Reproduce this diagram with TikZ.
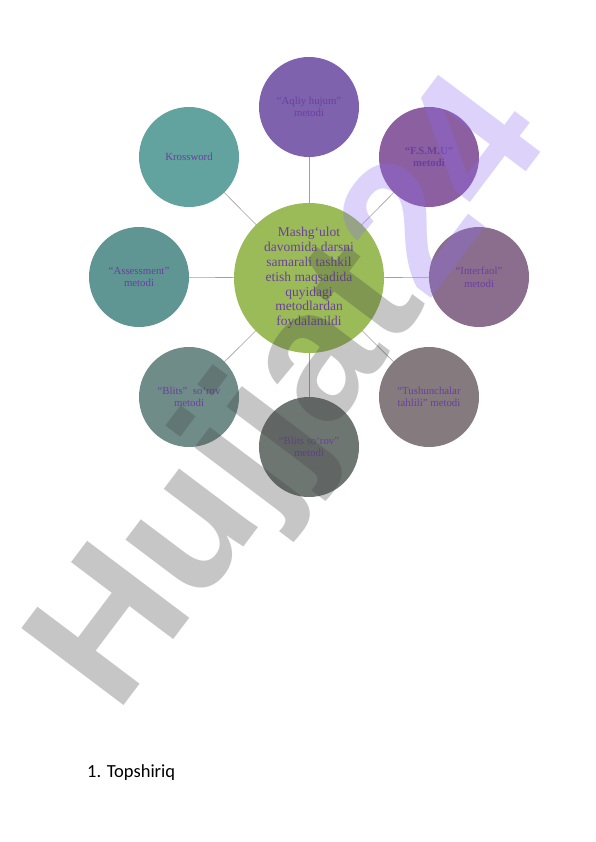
\documentclass[tikz,border=0pt]{standalone}
\usepackage{fontspec}
\setmainfont{Liberation Serif}
\newfontfamily\calibrifont{Carlito}
\newfontfamily\wmfont{Liberation Sans}
\usetikzlibrary{backgrounds}
\definecolor{txtpurple}{HTML}{6B3FA0}
\definecolor{cTop}{HTML}{7E62AE}
\definecolor{cFsmu}{HTML}{8B5FA0}
\definecolor{cKross}{HTML}{62A39F}
\definecolor{cAssess}{HTML}{5F9593}
\definecolor{cInter}{HTML}{8B6E8E}
\definecolor{cBlits}{HTML}{6F8C89}
\definecolor{cTush}{HTML}{857A7D}
\definecolor{cBottom}{HTML}{6E7672}
\definecolor{cHub}{HTML}{9BBB59}
\definecolor{linkgray}{HTML}{A0A0A0}
\definecolor{wmgray}{HTML}{444444}
\definecolor{wmlav}{HTML}{8C6CF0}
\tikzset{
  outer/.style={circle, minimum size=100pt, inner sep=0pt, align=center,
    text=txtpurple, font=\fontsize{10.8}{12.5}\selectfont},
  hub/.style={circle, minimum size=150pt, inner sep=0pt, align=center, fill=cHub,
    text=txtpurple, font=\fontsize{13.5}{14.8}\selectfont},
  link/.style={draw=linkgray, line width=0.6pt},
  wm/.style={rotate=53, text opacity=0.3, inner sep=0pt,
    font=\wmfont\bfseries\fontsize{186}{186}\selectfont}
}
\begin{document}
\begin{tikzpicture}[x=1pt,y=-1pt]
\useasboundingbox (0,0) rectangle (596,842);
\node[hub] (hub) at (309,278) {Mashg‘ulot\\davomida darsni\\samarali tashkil\\etish maqsadida\\quyidagi\\metodlardan\\foydalanildi};
\node[outer, fill=cTop] (top) at (309,107) {“Aqliy hujum”\\metodi};
\node[outer, fill=cFsmu, font=\bfseries\fontsize{10.8}{12.5}\selectfont] (fsmu) at (429,157) {“F.S.M.U”\\metodi};
\node[outer, fill=cKross] (kross) at (189,157) {Krossword};
\node[outer, fill=cAssess] (assess) at (139,277) {“Assessment”\\metodi};
\node[outer, fill=cInter] (inter) at (479,277) {“Interfaol”\\metodi};
\node[outer, fill=cBlits] (blits) at (189,397) {“Blits”\ \ so‘rov\\metodi};
\node[outer, fill=cTush] (tush) at (429,397) {“Tushunchalar\\tahlili” metodi};
\node[outer, fill=cBottom] (bottom) at (309,447) {“Blits so‘rov”\\metodi};
\begin{scope}[on background layer]
  \fill[white] (0,0) rectangle (596,842);
  \foreach \n in {top,fsmu,kross,assess,inter,blits,tush,bottom}
    \draw[link] (hub.center) -- (\n.center);
\end{scope}
\node[anchor=base west, inner sep=0pt, font=\calibrifont\fontsize{18.5}{20}\selectfont] (task) at (87,777) {1. Topshiriq};
\node[wm] (wm) at (296,398) {\color{wmgray}Hujjat\color{wmlav}24};
\end{tikzpicture}
\end{document}
